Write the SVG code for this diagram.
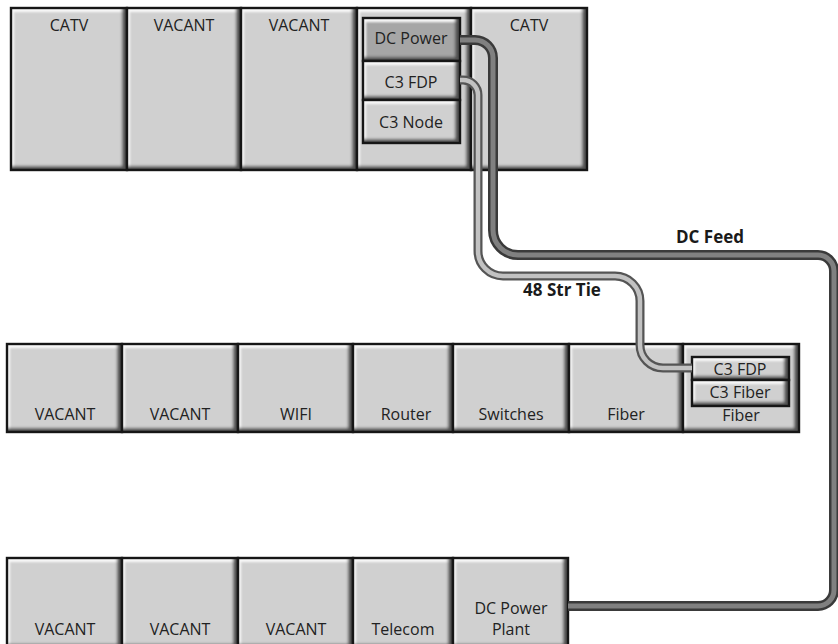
<svg xmlns="http://www.w3.org/2000/svg" width="838" height="644" viewBox="0 0 838 644">
<style>
.cell{fill:#d0d0d0;filter:url(#bevel)}
.dark{fill:#a6a6a6}
.bd{fill:none;stroke:#161616;stroke-width:2.4}
.t{font-family:"Open Sans","Noto Sans",sans-serif;font-size:16px;fill:#222;text-anchor:middle}
.b{font-family:"Open Sans","Noto Sans",sans-serif;font-size:17px;font-weight:bold;fill:#1a1a1a;text-anchor:middle}
.dcO{fill:none;stroke:#3a3a3a;stroke-width:10}
.dcI{fill:none;stroke:#808080;stroke-width:5}
.tieO{fill:none;stroke:#555555;stroke-width:9}
.tieI{fill:none;stroke:#c2c2c2;stroke-width:4.5}
</style>
<defs>
<filter id="bevel" x="-0.2" y="-0.3" width="1.4" height="1.6">
  <feFlood flood-color="#505050" result="f1"/>
  <feComposite in="f1" in2="SourceAlpha" operator="out" result="o1"/>
  <feOffset in="o1" dx="-5" dy="-4" result="s1"/>
  <feGaussianBlur in="s1" stdDeviation="1.8" result="s2"/>
  <feComposite in="s2" in2="SourceAlpha" operator="in" result="shadow"/>
  <feFlood flood-color="#f8f8f8" result="f2"/>
  <feComposite in="f2" in2="SourceAlpha" operator="out" result="o2"/>
  <feOffset in="o2" dx="3" dy="4" result="h1"/>
  <feGaussianBlur in="h1" stdDeviation="1.2" result="h2"/>
  <feComposite in="h2" in2="SourceAlpha" operator="in" result="hi"/>
  <feMerge>
    <feMergeNode in="SourceGraphic"/>
    <feMergeNode in="hi"/>
    <feMergeNode in="shadow"/>
  </feMerge>
</filter>
</defs>
<rect width="838" height="644" fill="#ffffff"/>

<!-- Top row -->
<g id="top-catv-1"><rect class="cell" x="11" y="8" width="116" height="162"/><rect class="bd" x="11" y="8" width="116" height="162"/><text class="t" x="69" y="31">CATV</text></g>
<g id="top-vacant-1"><rect class="cell" x="127" y="8" width="114" height="162"/><rect class="bd" x="127" y="8" width="114" height="162"/><text class="t" x="184" y="31">VACANT</text></g>
<g id="top-vacant-2"><rect class="cell" x="241" y="8" width="116" height="162"/><rect class="bd" x="241" y="8" width="116" height="162"/><text class="t" x="299" y="31">VACANT</text></g>
<g id="top-c3-rack"><rect class="cell" x="357" y="8" width="114" height="162"/><rect class="bd" x="357" y="8" width="114" height="162"/></g>
<g id="dc-power"><rect class="cell dark" x="363" y="18" width="97" height="43"/><rect class="bd" x="363" y="18" width="97" height="43"/><text class="t" x="411" y="44">DC Power</text></g>
<g id="c3-fdp-top"><rect class="cell" x="363" y="61" width="97" height="39"/><rect class="bd" x="363" y="61" width="97" height="39"/><text class="t" x="411" y="88">C3 FDP</text></g>
<g id="c3-node"><rect class="cell" x="363" y="100" width="97" height="43"/><rect class="bd" x="363" y="100" width="97" height="43"/><text class="t" x="411" y="128">C3 Node</text></g>
<g id="top-catv-2"><rect class="cell" x="471" y="8" width="116" height="162"/><rect class="bd" x="471" y="8" width="116" height="162"/><text class="t" x="529" y="31">CATV</text></g>

<!-- Middle row -->
<g id="mid-vacant-1"><rect class="cell" x="7" y="344" width="115" height="88"/><rect class="bd" x="7" y="344" width="115" height="88"/><text class="t" x="65" y="420">VACANT</text></g>
<g id="mid-vacant-2"><rect class="cell" x="122" y="344" width="116" height="88"/><rect class="bd" x="122" y="344" width="116" height="88"/><text class="t" x="180" y="420">VACANT</text></g>
<g id="mid-wifi"><rect class="cell" x="238" y="344" width="115" height="88"/><rect class="bd" x="238" y="344" width="115" height="88"/><text class="t" x="296" y="420">WIFI</text></g>
<g id="mid-router"><rect class="cell" x="353" y="344" width="100" height="88"/><rect class="bd" x="353" y="344" width="100" height="88"/><text class="t" x="406" y="420">Router</text></g>
<g id="mid-switches"><rect class="cell" x="453" y="344" width="116" height="88"/><rect class="bd" x="453" y="344" width="116" height="88"/><text class="t" x="511" y="420">Switches</text></g>
<g id="mid-fiber-1"><rect class="cell" x="569" y="344" width="114" height="88"/><rect class="bd" x="569" y="344" width="114" height="88"/><text class="t" x="626" y="420">Fiber</text></g>
<g id="mid-fiber-2"><rect class="cell" x="683" y="344" width="116" height="88"/><rect class="bd" x="683" y="344" width="116" height="88"/><text class="t" x="741" y="421">Fiber</text></g>
<g id="c3-fdp-mid"><rect class="cell" x="692" y="357" width="97" height="23"/><rect class="bd" x="692" y="357" width="97" height="23"/><text class="t" x="740" y="375">C3 FDP</text></g>
<g id="c3-fiber"><rect class="cell" x="692" y="380" width="97" height="26"/><rect class="bd" x="692" y="380" width="97" height="26"/><text class="t" x="740" y="398">C3 Fiber</text></g>

<!-- Bottom row -->
<g id="bot-vacant-1"><rect class="cell" x="7" y="558" width="115" height="90"/><rect class="bd" x="7" y="558" width="115" height="90"/><text class="t" x="65" y="635">VACANT</text></g>
<g id="bot-vacant-2"><rect class="cell" x="122" y="558" width="116" height="90"/><rect class="bd" x="122" y="558" width="116" height="90"/><text class="t" x="180" y="635">VACANT</text></g>
<g id="bot-vacant-3"><rect class="cell" x="238" y="558" width="115" height="90"/><rect class="bd" x="238" y="558" width="115" height="90"/><text class="t" x="296" y="635">VACANT</text></g>
<g id="bot-telecom"><rect class="cell" x="353" y="558" width="100" height="90"/><rect class="bd" x="353" y="558" width="100" height="90"/><text class="t" x="403" y="635">Telecom</text></g>
<g id="dc-power-plant"><rect class="cell" x="453" y="558" width="115" height="90"/><rect class="bd" x="453" y="558" width="115" height="90"/><text class="t" x="511" y="614">DC Power</text><text class="t" x="511" y="635">Plant</text></g>

<!-- Connectors -->
<g id="connectors">
  <g id="dc-feed">
    <path class="dcO" d="M 460 40 H 475 A 18 18 0 0 1 493 58 V 230 A 25 25 0 0 0 518 255 H 818 A 16 16 0 0 1 834 271 V 590 A 16 16 0 0 1 818 606 H 568"/>
    <path class="dcI" d="M 460 40 H 475 A 18 18 0 0 1 493 58 V 230 A 25 25 0 0 0 518 255 H 818 A 16 16 0 0 1 834 271 V 590 A 16 16 0 0 1 818 606 H 568"/>
  </g>
  <g id="tie-48">
    <path class="tieO" d="M 460 80 H 463 A 15 15 0 0 1 478 95 V 251 A 25 25 0 0 0 503 276 H 615 A 25 25 0 0 1 640 301 V 345 A 23 23 0 0 0 663 368 H 692"/>
    <path class="tieI" d="M 460 80 H 463 A 15 15 0 0 1 478 95 V 251 A 25 25 0 0 0 503 276 H 615 A 25 25 0 0 1 640 301 V 345 A 23 23 0 0 0 663 368 H 692"/>
  </g>
  <text class="b" x="710" y="243">DC Feed</text>
  <text class="b" x="562" y="296">48 Str Tie</text>
</g>
</svg>
